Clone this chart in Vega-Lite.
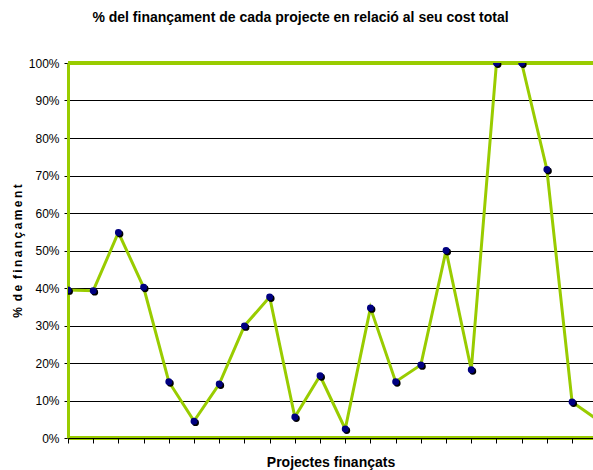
{
  "$schema": "https://vega.github.io/schema/vega-lite/v6.json",
  "autosize": "none",
  "width": 525,
  "height": 375,
  "padding": {"left": 68, "top": 63, "right": 0, "bottom": 32},
  "background": "white",
  "config": {
    "view": {"stroke": null},
    "font": "Liberation Sans"
  },
  "title": {
    "text": "% del finançament de cada projecte en relació al seu cost total",
    "font": "Liberation Sans",
    "fontSize": 14,
    "fontWeight": "bold",
    "color": "black",
    "anchor": "middle",
    "baseline": "middle",
    "dx": -30,
    "offset": 25
  },
  "data": {
    "values": [
      {"projecte": 0, "pct": 0.395},
      {"projecte": 1, "pct": 0.393},
      {"projecte": 2, "pct": 0.548},
      {"projecte": 3, "pct": 0.402},
      {"projecte": 4, "pct": 0.150},
      {"projecte": 5, "pct": 0.045},
      {"projecte": 6, "pct": 0.144},
      {"projecte": 7, "pct": 0.299},
      {"projecte": 8, "pct": 0.376},
      {"projecte": 9, "pct": 0.056},
      {"projecte": 10, "pct": 0.166},
      {"projecte": 11, "pct": 0.024},
      {"projecte": 12, "pct": 0.347},
      {"projecte": 13, "pct": 0.150},
      {"projecte": 14, "pct": 0.195},
      {"projecte": 15, "pct": 0.500},
      {"projecte": 16, "pct": 0.182},
      {"projecte": 17, "pct": 1.0},
      {"projecte": 18, "pct": 1.0},
      {"projecte": 19, "pct": 0.716},
      {"projecte": 20, "pct": 0.096},
      {"projecte": 21, "pct": 0.049}
    ]
  },
  "encoding": {
    "x": {
      "field": "projecte",
      "type": "quantitative",
      "scale": {"domain": [0, 20.83], "nice": false, "zero": false},
      "axis": {
        "values": [0,1,2,3,4,5,6,7,8,9,10,11,12,13,14,15,16,17,18,19,20],
        "labels": false,
        "grid": false,
        "domain": true,
        "domainColor": "black",
        "domainWidth": 1,
        "ticks": true,
        "tickColor": "black",
        "tickSize": 5,
        "title": "Projectes finançats",
        "titleFont": "Liberation Sans",
        "titleFontSize": 14,
        "titleFontWeight": "bold",
        "titleColor": "black",
        "titlePadding": 12,
        "zindex": 1
      }
    },
    "y": {
      "field": "pct",
      "type": "quantitative",
      "scale": {"domain": [0, 1], "nice": false},
      "axis": {
        "values": [0,0.1,0.2,0.3,0.4,0.5,0.6,0.7,0.8,0.9,1.0],
        "format": ".0%",
        "labelFont": "Liberation Sans",
        "labelFontSize": 12,
        "labelColor": "black",
        "labelPadding": 5,
        "tickSize": 4,
        "tickColor": "black",
        "domainColor": "#99CC00",
        "domainWidth": 3,
        "grid": true,
        "gridColor": "black",
        "gridWidth": 1,
        "gridOpacity": 1,
        "title": "%\u2009  d\u2009e\u2009  f\u2009i\u2009n\u2009a\u2009n\u2009\u00e7\u2009a\u2009m\u2009e\u2009n\u2009t",
        "titleFont": "Liberation Sans",
        "titleFontSize": 12,
        "titleFontWeight": "bold",
        "titleColor": "black",
        "titlePadding": 4
      }
    }
  },
  "layer": [
    {
      "mark": {"type": "rule", "color": "#99CC00", "strokeWidth": 3},
      "encoding": {"y": {"datum": 1}, "x": null}
    },
    {
      "mark": {"type": "rule", "color": "#99CC00", "strokeWidth": 3},
      "encoding": {"y": {"datum": 0}, "x": null}
    },
    {
      "mark": {"type": "line", "color": "#99CC00", "strokeWidth": 3, "clip": true}
    },
    {
      "mark": {"type": "point", "filled": true, "color": "black", "size": 48, "opacity": 1, "clip": true},
      "encoding": {"xOffset": {"value": 1.5}, "yOffset": {"value": 1.5}}
    },
    {
      "mark": {"type": "point", "filled": true, "color": "#000080", "size": 48, "opacity": 1, "clip": true}
    }
  ]
}
